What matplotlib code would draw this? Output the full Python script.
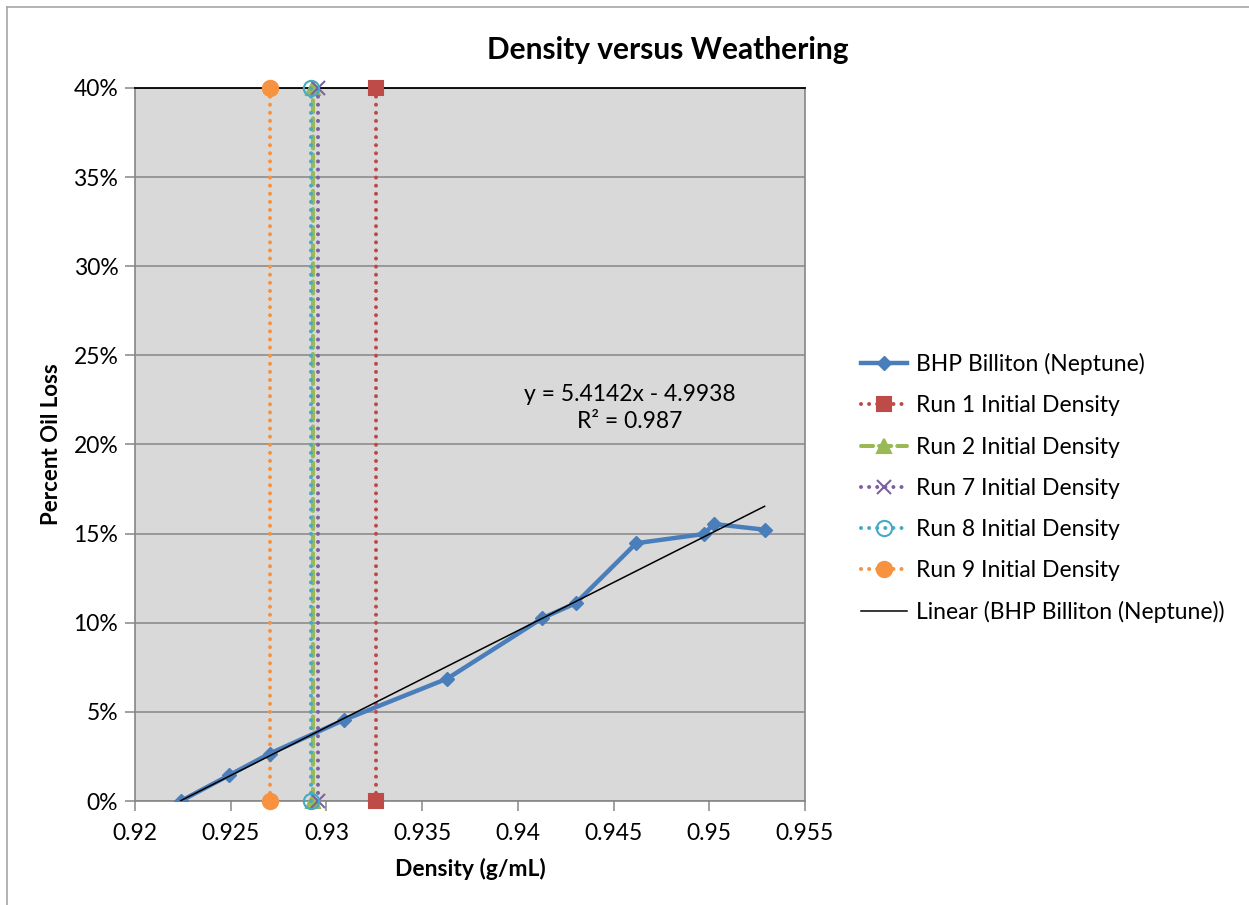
import matplotlib
matplotlib.use("Agg")
import matplotlib.pyplot as plt
import numpy as np
from matplotlib.ticker import FuncFormatter, FixedLocator

plt.rcParams['font.family'] = ['Lato', 'DejaVu Sans']

# Data
density = [0.92239, 0.92491, 0.92704, 0.93092, 0.93632, 0.94128, 0.94303,
           0.94618, 0.94972, 0.95024, 0.95289]
oil_loss = [0.0, 0.0144, 0.0266, 0.0455, 0.0687, 0.1026, 0.1110,
            0.1446, 0.1498, 0.1554, 0.1522]

run_names = ["Run 1 Initial Density", "Run 2 Initial Density", "Run 7 Initial Density",
             "Run 8 Initial Density", "Run 9 Initial Density"]
run_density = [0.93258, 0.92931, 0.92958, 0.92919, 0.92706]
run_ends = [0.0, 0.40]

slope = 5.4142
intercept = -4.9938
r2 = 0.987

x_ticks = [0.92, 0.925, 0.93, 0.935, 0.94, 0.945, 0.95, 0.955]
y_ticks = [0.0, 0.05, 0.10, 0.15, 0.20, 0.25, 0.30, 0.35, 0.40]

W, H = 1249, 905
fig = plt.figure(figsize=(W / 100, H / 100), dpi=100)
ax = fig.add_axes([135 / W, 1 - 801 / H, (805 - 135) / W, (801 - 88) / H])
ax.set_facecolor('#D9D9D9')

# gridlines
for yv in y_ticks:
    ax.axhline(yv, color='#868686', lw=1.1, zorder=1)

blue = '#4A7EBB'
ax.plot(density, oil_loss, color=blue, lw=3.2, marker='D', markersize=7.5,
        markerfacecolor=blue, markeredgecolor=blue, zorder=5,
        label='BHP Billiton (Neptune)')

dot = (0, (0.01, 2.0))
styles = [
    dict(color='#BE4B48', ls=dot, marker='s', ms=10, mfc='#BE4B48', mec='#BE4B48'),
    dict(color='#98B954', ls=(0, (3.0, 1.5)), marker='^', ms=10, mfc='#98B954', mec='#98B954'),
    dict(color='#7D60A0', ls=dot, marker='x', ms=10, mfc='#7D60A0', mec='#7D60A0'),
    dict(color='#46AAC5', ls=dot, marker='o', ms=11, mfc='none', mec='#46AAC5'),
    dict(color='#F69240', ls=dot, marker='o', ms=11, mfc='#F69240', mec='#F69240'),
]
for name, xd, st in zip(run_names, run_density, styles):
    ax.plot([xd, xd], run_ends, color=st['color'], ls=st['ls'], lw=2.9,
            marker=st['marker'], markersize=st['ms'], markerfacecolor=st['mfc'],
            markeredgecolor=st['mec'], markeredgewidth=1.5, zorder=4, clip_on=False,
            label=name, dash_capstyle='round', solid_capstyle='round')

xt = np.array([density[0], density[-1]])
ax.plot(xt, slope * xt + intercept, color='black', lw=1.1, zorder=6,
        label='Linear (BHP Billiton (Neptune))')

ax.text(0.94586, 0.2205, f'y = {slope}x - {abs(intercept)}\nR² = {r2}', ha='center',
        va='center', fontsize=16.5, linespacing=1.3, color='#000000')

ax.set_xlim(0.92, 0.955)
ax.set_ylim(0, 0.40)
ax.xaxis.set_major_locator(FixedLocator(x_ticks))
ax.yaxis.set_major_locator(FixedLocator(y_ticks))
ax.xaxis.set_major_formatter(FuncFormatter(lambda v, p: f"{v:g}"))
ax.yaxis.set_major_formatter(FuncFormatter(lambda v, p: f"{v*100:.0f}%"))
ax.tick_params(axis='both', direction='out', length=7, width=1.1, color='#868686',
               labelsize=16.5, pad=5)
ax.tick_params(axis='x', pad=9)
for s in ['left', 'bottom', 'right']:
    ax.spines[s].set_color('#868686')
    ax.spines[s].set_linewidth(1.2)
ax.spines['top'].set_color('#000000')
ax.spines['top'].set_linewidth(1.3)

ax.set_xlabel('Density (g/mL)', fontsize=16.5, fontweight='bold', labelpad=10)
ax.set_ylabel('Percent Oil Loss', fontsize=16, fontweight='bold', labelpad=8)

fig.text(668 / W, 1 - 50 / H, 'Density versus Weathering', ha='center', va='center',
         fontsize=21.5, fontweight='bold')

leg = fig.legend(loc='upper left', bbox_to_anchor=(852 / W, 1 - 344 / H), frameon=False,
                 fontsize=16.5, labelspacing=0.88, handlelength=2.0, handletextpad=0.4,
                 borderaxespad=0)

# chart border
fig.add_artist(plt.Line2D([7 / W, 7 / W], [0, 1 - 7 / H], color='#A6A6A6', lw=1.2))
fig.add_artist(plt.Line2D([7 / W, 1], [1 - 7 / H, 1 - 7 / H], color='#A6A6A6', lw=1.2))

fig.savefig('out.png', dpi=100)
